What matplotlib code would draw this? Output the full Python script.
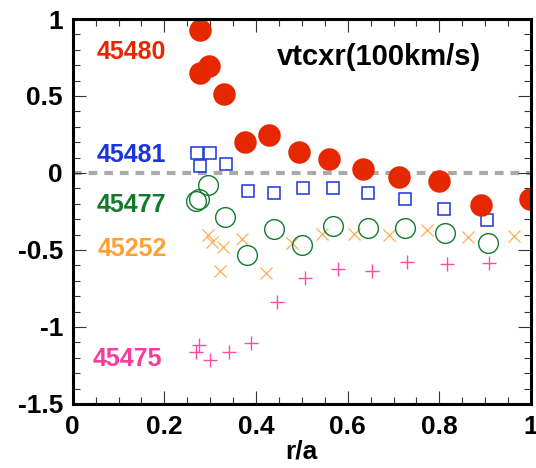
import matplotlib
matplotlib.use("Agg")
import matplotlib.pyplot as plt
from matplotlib.ticker import MultipleLocator, FuncFormatter

plt.rcParams['font.family'] = ['Liberation Sans', 'DejaVu Sans']
plt.rcParams['font.weight'] = 'bold'

# 45480 (red filled circles)
r_45480 = [0.278, 0.298, 0.278, 0.330, 0.376, 0.429, 0.493, 0.559, 0.633, 0.712, 0.799, 0.891, 0.998]
v_45480 = [0.929, 0.696, 0.648, 0.514, 0.201, 0.244, 0.134, 0.093, 0.027, -0.028, -0.054, -0.209, -0.172]

# 45481 (blue open squares)
r_45481 = [0.271, 0.300, 0.278, 0.335, 0.383, 0.439, 0.502, 0.569, 0.644, 0.724, 0.810, 0.903]
v_45481 = [0.128, 0.128, 0.043, 0.057, -0.114, -0.129, -0.099, -0.097, -0.129, -0.172, -0.231, -0.306]

# 45477 (green open circles)
r_45477 = [0.268, 0.276, 0.296, 0.333, 0.381, 0.439, 0.500, 0.569, 0.645, 0.725, 0.812, 0.906]
v_45477 = [-0.182, -0.170, -0.080, -0.287, -0.533, -0.362, -0.466, -0.345, -0.360, -0.356, -0.388, -0.453]

# 45252 (orange crosses)
r_45252 = [0.295, 0.305, 0.329, 0.321, 0.370, 0.421, 0.479, 0.545, 0.614, 0.691, 0.773, 0.863, 0.963]
v_45252 = [-0.403, -0.446, -0.481, -0.639, -0.431, -0.647, -0.453, -0.399, -0.399, -0.403, -0.371, -0.416, -0.410]

# 45475 (pink plus)
r_45475 = [0.276, 0.269, 0.300, 0.340, 0.390, 0.446, 0.507, 0.578, 0.652, 0.730, 0.817, 0.909]
v_45475 = [-1.118, -1.165, -1.213, -1.161, -1.105, -0.841, -0.679, -0.621, -0.639, -0.578, -0.589, -0.582]

labels = ['45480', '45481', '45477', '45252', '45475']
label_x = [0.052, 0.052, 0.052, 0.055, 0.044]
label_y = [0.788, 0.119, -0.205, -0.496, -1.209]
colors = ['#E62800', '#1A35DD', '#127A2C', '#FFA033', '#FA3A9C']

fig = plt.figure(figsize=(5.36, 4.68), dpi=100)
ax = fig.add_axes([0.1356, 0.1368, 0.8551, 0.8226])

ax.axhline(0, color='#AAAAAA', lw=3, dashes=(2.1, 1.65), zorder=1)

ax.plot(r_45475, v_45475, ls='none', marker='+', ms=10, mew=1.0, color=colors[4], alpha=0.9)
ax.plot(r_45252, v_45252, ls='none', marker='x', ms=9, mew=0.9, color=colors[3], alpha=0.85)
ax.plot(r_45477, v_45477, ls='none', marker='o', ms=14.2, mew=1.0, mfc='none', mec=colors[2])
ax.plot(r_45481, v_45481, ls='none', marker='s', ms=8, mew=1.1, mfc='none', mec=colors[1])
ax.plot(r_45480, v_45480, ls='none', marker='o', ms=16.2, mew=0, color=colors[0])

for lab, x, y, c in zip(labels, label_x, label_y, colors):
    ax.text(x, y, lab, color=c, fontsize=18, fontweight='bold', va='center', ha='left')

ax.text(0.445, 0.756, 'vtcxr(100km/s)', color='black', fontsize=21, fontweight='bold',
        va='center', ha='left')

ax.set_xlim(0, 1)
ax.set_ylim(-1.5, 1)
ax.xaxis.set_major_locator(MultipleLocator(0.2))
ax.xaxis.set_minor_locator(MultipleLocator(0.05))
ax.yaxis.set_major_locator(MultipleLocator(0.5))
ax.yaxis.set_minor_locator(MultipleLocator(0.1))
fmt = FuncFormatter(lambda v, pos: '%g' % round(v, 3))
ax.xaxis.set_major_formatter(fmt)
ax.yaxis.set_major_formatter(fmt)

ax.tick_params(which='both', direction='in', top=True, right=True, color='#333333', width=0.8)
ax.tick_params(which='major', length=9.4, labelsize=19)
ax.tick_params(which='minor', length=5)
ax.tick_params(axis='x', which='major', pad=8)
ax.tick_params(axis='y', which='major', pad=7)
for s in ax.spines.values():
    s.set_linewidth(2.2)

ax.set_xlabel('r/a', fontsize=19, fontweight='bold', labelpad=0)

fig.savefig('out.png', dpi=100)
